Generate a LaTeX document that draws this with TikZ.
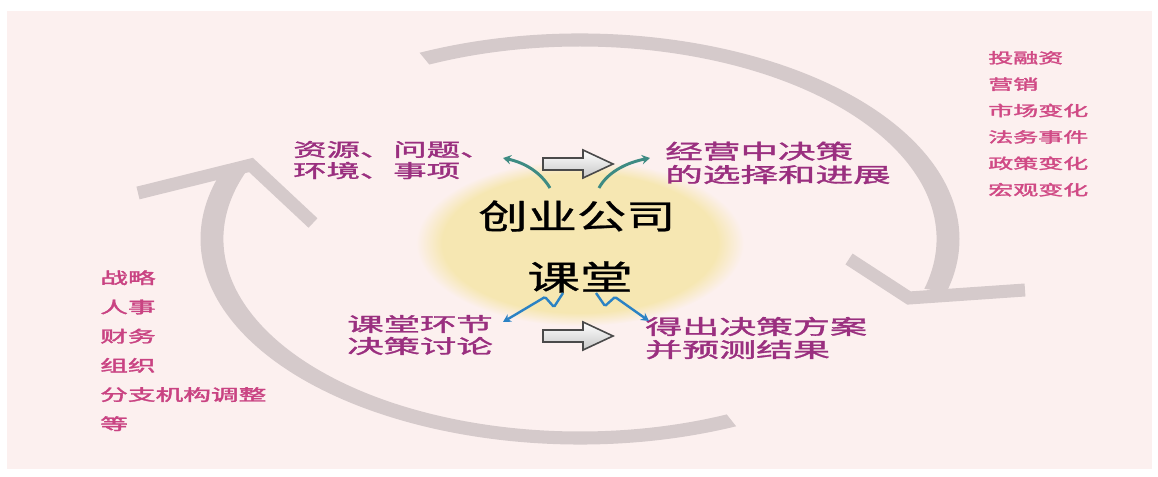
\documentclass[tikz,border=0pt]{standalone}
\usepackage{fontspec}
\usepackage{graphicx}
\usetikzlibrary{arrows.meta}
\newfontfamily\cjk[FakeBold=0.7]{Noto Sans CJK SC}
\newfontfamily\cjkb[FakeBold=1.4]{Noto Sans CJK SC}
\newfontfamily\cjkbb[FakeBold=1.8]{Noto Sans CJK SC}
\definecolor{bgp}{HTML}{FCF0EF}
\definecolor{yl}{HTML}{F6E7B2}
\definecolor{arcc}{HTML}{D5CACB}
\definecolor{txtp}{HTML}{9A2F7F}
\definecolor{listr}{HTML}{D04A85}
\definecolor{listl}{HTML}{C94382}
\definecolor{tealc}{HTML}{3E8B83}
\definecolor{bluec}{HTML}{2B82C4}
\definecolor{arrowgray}{HTML}{4A4A4A}
\pgfdeclareradialshading{softyellow}{\pgfpointorigin}{color(0bp)=(yl);color(21bp)=(yl);color(25bp)=(bgp);color(50bp)=(bgp)}
\newcommand{\sx}[2]{\scalebox{#1}[1]{#2}}
\newcommand{\mlines}[1]{\begin{tabular}{@{}l@{}}#1\end{tabular}}
\begin{document}
\begin{tikzpicture}[x=0.75pt,y=-0.75pt,
  midtext/.style={anchor=west, inner sep=0pt, text=txtp},
  listtext/.style={anchor=west, inner sep=0pt},
  centertext/.style={inner sep=0pt, text=black},
  tealarr/.style={draw=tealc, line width=2.2pt, -{Stealth[length=6pt,width=7pt]}},
  bluearr/.style={draw=bluec, line width=1.8pt, rounded corners=1pt, -{Stealth[length=6pt,width=6.5pt]}},
  blockarr/.style={draw=arrowgray, line width=1.2pt, top color=white, bottom color=black!22, line join=miter},
  band/.style={fill=arcc},
  chev/.style={draw=arcc, line width=9.75pt, line join=miter, line cap=butt}]
\useasboundingbox (0,0) rectangle (1158,477);
\fill[white] (0,0) rectangle (1158,477);
\fill[bgp] (7,11) rectangle (1152,469);

% big cycle arrows
\fill[band] ([shift={(580,239)}]-115:379.5 and 205.5) arc[start angle=-115, end angle=15, x radius=379.5, y radius=205.5]
  -- ([shift={(580,239)}]15:356.5 and 192.5) arc[start angle=15, end angle=-115, x radius=356.5, y radius=192.5] -- cycle;
\fill[band] ([shift={(580,239)}]65.7:379.5 and 205.5) arc[start angle=65.7, end angle=200, x radius=379.5, y radius=205.5]
  -- ([shift={(580,239)}]200:356.5 and 192.5) arc[start angle=200, end angle=65.7, x radius=356.5, y radius=192.5] -- cycle;
\coordinate (rc1) at (849,259);
\coordinate (rc2) at (909,298);
\coordinate (rc3) at (1025,290);
\draw[chev] (rc1) -- (rc2) -- (rc3);
\coordinate (lc1) at (138,193);
\coordinate (lc2) at (251,165);
\coordinate (lc3) at (313,223);
\draw[chev] (lc1) -- (lc2) -- (lc3);

% yellow core
\shade[shading=softyellow] (580,243) ellipse [x radius=164, y radius=83];

% center texts
\node[centertext, font=\cjk\fontsize{25.5}{25.5}\selectfont] (company) at (577,216) {\sx{1.45}{创业公司}};
\node[centertext, font=\cjk\fontsize{25.5}{25.5}\selectfont] (classroom) at (580,277) {\sx{1.55}{课堂}};

% surrounding texts
\node[midtext, font=\cjkb\fontsize{13.9}{13.5}\selectfont] (res) at (293,162) {\sx{1.8}{\mlines{资源、问题、\\环境、事项}}};
\node[midtext, font=\cjkb\fontsize{15.4}{15}\selectfont] (oper) at (665,165) {\sx{1.83}{\mlines{经营中决策\\的选择和进展}}};
\node[midtext, font=\cjkb\fontsize{14.6}{13.9}\selectfont] (disc) at (347,337) {\sx{1.87}{\mlines{课堂环节\\决策讨论}}};
\node[midtext, font=\cjkb\fontsize{15.4}{14.3}\selectfont] (result) at (645,340) {\sx{1.8}{\mlines{得出决策方案\\并预测结果}}};

% side lists
\node[listtext, text=listr, font=\cjkbb\fontsize{10.9}{19.8}\selectfont] (rlist) at (988,124) {\sx{1.72}{\mlines{投融资\\营销\\市场变化\\法务事件\\政策变化\\宏观变化}}};
\node[listtext, text=listl, font=\cjkbb\fontsize{12}{21.9}\selectfont] (llist) at (100,351) {\sx{1.73}{\mlines{战略\\人事\\财务\\组织\\分支机构调整\\等}}};

% teal arrows
\coordinate (tAs) at (550,188);
\coordinate (tAe) at (503,158);
\coordinate (tBs) at (599,188);
\coordinate (tBe) at (650,158);
\draw[tealarr] (tAs) .. controls (541,173) and (526,163) .. (tAe);
\draw[tealarr] (tBs) .. controls (607,173) and (625,163) .. (tBe);

% blue zigzag arrows
\coordinate (bAs) at (563,293);
\coordinate (bAe) at (503,322);
\coordinate (bBs) at (596,293);
\coordinate (bBe) at (649,321);
\draw[bluearr] (bAs) -- (554,307) -- (545,297) -- (bAe);
\draw[bluearr] (bBs) -- (605,306) -- (615,297) -- (bBe);

% block arrows
\coordinate (ba1) at (543,164);
\coordinate (ba2) at (543,336);
\draw[blockarr] ([shift={(0,-6)}]ba1) -- ++(40,0) -- ++(0,-8) -- ++(30,14) -- ++(-30,14) -- ++(0,-8) -- ++(-40,0) -- cycle;
\draw[blockarr] ([shift={(0,-6)}]ba2) -- ++(40,0) -- ++(0,-8) -- ++(30,14) -- ++(-30,14) -- ++(0,-8) -- ++(-40,0) -- cycle;
\end{tikzpicture}
\end{document}
